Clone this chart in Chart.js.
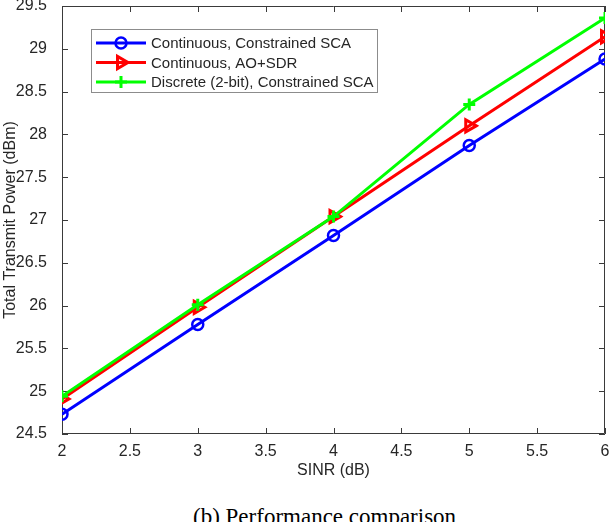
<!DOCTYPE html>
<html lang="en">
<head>
    <meta charset="UTF-8">
    <title>Performance comparison</title>
    <script src="https://cdn.jsdelivr.net/npm/chart.js"></script>
    <style>
        body { margin: 0; background: #fff; width: 616px; height: 522px; overflow: hidden; position: relative; }
        #wrap { position: absolute; left: 0; top: -4px; width: 616px; height: 487px; }
        #caption { position: absolute; left: 193px; top: 505px; font-family: "Liberation Serif", "Times New Roman", serif; font-size: 23px; line-height: 23px; color: #000; white-space: nowrap; }
    </style>
</head>
<body>

    <div id="wrap"><canvas id="perfChart" width="616" height="487"></canvas></div>
    <div id="caption">(b) Performance comparison</div>

    <script>
        // values
        const sinr = [2, 3, 4, 5, 6];
        const sca = [24.73, 25.78, 26.82, 27.87, 28.88];
        const aoSdr = [24.91, 25.98, 27.04, 28.10, 29.14];
        const discreteSca = [24.94, 26.01, 27.04, 28.35, 29.36];
        const seriesNames = ['Continuous, Constrained SCA', 'Continuous, AO+SDR', 'Discrete (2-bit), Constrained SCA'];

        const textColor = '#262626';
        const axisColor = '#3a3a3a';
        const font = 'Liberation Sans, Arial, sans-serif';

        const toPoints = ys => sinr.map((x, i) => ({ x: x, y: ys[i] }));
        // 2 -> "2", 2.5 -> "2.5"
        const tickText = v => String(Math.round(v * 10) / 10);

        // MATLAB style box with ticks pointing inward
        const boxAxes = {
            id: 'boxAxes',
            beforeDatasetsDraw(chart) {
                const { ctx, chartArea: a, scales } = chart;
                ctx.save();
                ctx.strokeStyle = axisColor;
                ctx.lineWidth = 1;
                ctx.beginPath();
                ctx.rect(a.left + 0.5, a.top + 0.5, a.right - a.left - 1, a.bottom - a.top - 1);
                ctx.stroke();
                const len = 6;
                ctx.beginPath();
                scales.x.ticks.forEach(t => {
                    const px = Math.round(scales.x.getPixelForValue(t.value)) + 0.5;
                    ctx.moveTo(px, a.bottom); ctx.lineTo(px, a.bottom - len);
                    ctx.moveTo(px, a.top); ctx.lineTo(px, a.top + len);
                });
                scales.y.ticks.forEach(t => {
                    const py = Math.round(scales.y.getPixelForValue(t.value)) + 0.5;
                    ctx.moveTo(a.left, py); ctx.lineTo(a.left + len, py);
                    ctx.moveTo(a.right, py); ctx.lineTo(a.right - len, py);
                });
                ctx.stroke();
                ctx.restore();
            }
        };

        // boxed legend in the upper left corner (canvas is shifted up 4px)
        const boxLegend = {
            id: 'boxLegend',
            afterDraw(chart) {
                const { ctx } = chart;
                const x0 = 91, y0 = 33, w = 286, h = 63;
                ctx.save();
                ctx.fillStyle = '#fff';
                ctx.fillRect(x0, y0, w, h);
                ctx.strokeStyle = '#8c8c8c';
                ctx.lineWidth = 1;
                ctx.strokeRect(x0 + 0.5, y0 + 0.5, w, h);
                ctx.font = '15px ' + font;
                ctx.textBaseline = 'middle';
                const rows = [47, 66.5, 86];
                chart.data.datasets.forEach((ds, i) => {
                    const y = rows[i];
                    ctx.strokeStyle = ds.borderColor;
                    ctx.lineWidth = ds.borderWidth;
                    ctx.beginPath();
                    ctx.moveTo(96, y); ctx.lineTo(146, y);
                    ctx.stroke();
                    ctx.strokeStyle = ds.pointBorderColor;
                    ctx.fillStyle = ds.pointBackgroundColor;
                    ctx.lineWidth = ds.pointBorderWidth;
                    Chart.helpers.drawPoint(ctx, {
                        pointStyle: ds.pointStyle,
                        rotation: ds.pointRotation || 0,
                        radius: ds.pointRadius,
                        borderWidth: ds.pointBorderWidth
                    }, 121, y);
                    ctx.fillStyle = textColor;
                    ctx.fillText(ds.label, 151, y + 1);
                });
                ctx.restore();
            }
        };

        const ctx = document.getElementById('perfChart').getContext('2d');
        new Chart(ctx, {
            type: 'line',
            data: {
                datasets: [
                    {
                        label: seriesNames[0],
                        data: toPoints(sca),
                        borderColor: '#0000ff',
                        borderWidth: 3,
                        pointStyle: 'circle',
                        pointRadius: 5.5,
                        pointBorderWidth: 2.5,
                        pointBackgroundColor: 'rgba(0,0,0,0)',
                        pointBorderColor: '#0000ff',
                        order: 3
                    },
                    {
                        label: seriesNames[1],
                        data: toPoints(aoSdr),
                        borderColor: '#ff0000',
                        borderWidth: 3,
                        pointStyle: 'triangle',
                        pointRotation: 90,
                        pointRadius: 7,
                        pointBorderWidth: 3,
                        pointBackgroundColor: 'rgba(0,0,0,0)',
                        pointBorderColor: '#ff0000',
                        order: 2
                    },
                    {
                        label: seriesNames[2],
                        data: toPoints(discreteSca),
                        borderColor: '#00ff00',
                        borderWidth: 3,
                        pointStyle: 'cross',
                        pointRadius: 6,
                        pointBorderWidth: 3,
                        pointBackgroundColor: '#00ff00',
                        pointBorderColor: '#00ff00',
                        order: 1
                    }
                ]
            },
            options: {
                responsive: false,
                animation: false,
                layout: { padding: { left: 0, right: 11, top: 1, bottom: 0 } },
                plugins: {
                    legend: { display: false },
                    tooltip: { enabled: false }
                },
                scales: {
                    x: {
                        type: 'linear',
                        min: 2, max: 6,
                        grid: { display: false },
                        border: { display: false },
                        ticks: { stepSize: 0.5, color: textColor, padding: 0, maxRotation: 0, font: { family: font, size: 16 }, callback: tickText },
                        title: { display: true, text: 'SINR (dB)', color: textColor, padding: { top: 0, bottom: 3 }, font: { family: font, size: 16 } },
                        afterFit(s) { s.height = 49; s.paddingLeft = 0; s.paddingRight = 0; }
                    },
                    y: {
                        min: 24.5, max: 29.5,
                        grid: { display: false },
                        border: { display: false },
                        ticks: { stepSize: 0.5, color: textColor, padding: 7, font: { family: font, size: 16 }, callback: tickText },
                        title: { display: true, text: 'Total Transmit Power (dBm)', color: textColor, padding: { top: 1, bottom: 0 }, font: { family: font, size: 16 } },
                        afterFit(s) { s.width = 62; s.paddingTop = 0; s.paddingBottom = 0; }
                    }
                }
            },
            plugins: [boxAxes, boxLegend]
        });
    </script>

</body>
</html>
